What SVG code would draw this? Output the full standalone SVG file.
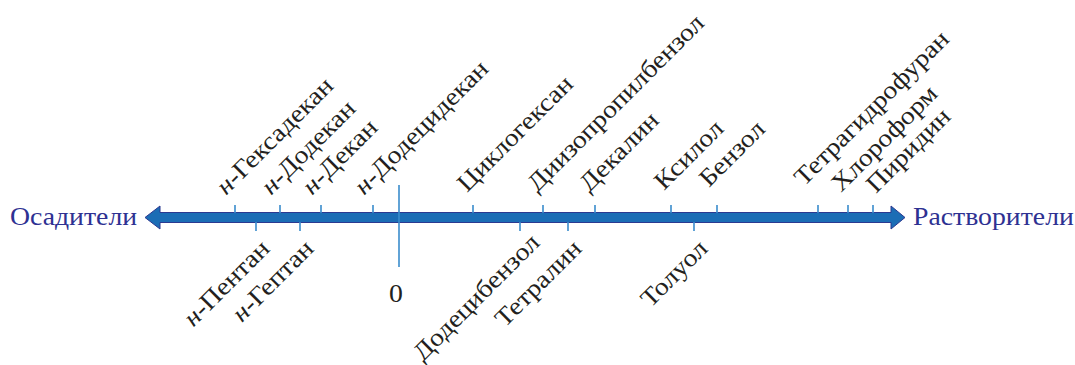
<svg xmlns="http://www.w3.org/2000/svg" width="1075" height="365" viewBox="0 0 1075 365">
<style>
.lbl{font-family:"Liberation Serif","Times New Roman",serif;font-size:25px;fill:#231f20}
.end{font-family:"Liberation Serif","Times New Roman",serif;font-size:25px;fill:#2e3192}
.tick{stroke:#3a8ccc;stroke-width:1.6;fill:none}
.it{font-style:italic}
</style>
<rect width="1075" height="365" fill="#fff"/>
<g id="axis">
<path d="M145,217.5 L160,206 L160,212.5 L891,212.5 L891,206 L905,217.5 L891,229 L891,222.5 L160,222.5 L160,229 Z" fill="#1b6db5" stroke="#2b3990" stroke-width="1"/>
</g>
<g id="connectors">
<path class="tick" d="M235,205V213 M280,205V213 M321,205V213 M373,205V213 M473,205V213 M543,205V213 M595,205V213 M671,205V213 M717,205V213 M818,205V213 M848,205V213 M873,205V213"/>
<path class="tick" d="M256,222V231 M300,222V231 M520,222V231 M568,222V231 M694,222V231"/>
<path class="tick" d="M399,185V267"/>
</g>
<g id="n-end-left"><text class="end" transform="translate(10,225) scale(1.11,1)">Осадители</text></g>
<g id="n-end-right"><text class="end" transform="translate(913,225) scale(1.11,1)">Растворители</text></g>
<g id="n-zero"><text class="lbl" transform="translate(396,302) scale(1.11,1)" text-anchor="middle">0</text></g>
<g id="n-hexadecane"><text class="lbl" transform="translate(226,196) rotate(-45) scale(1.11,1)"><tspan class="it">н</tspan>-Гексадекан</text></g>
<g id="n-dodecane"><text class="lbl" transform="translate(271,196) rotate(-45) scale(1.11,1)"><tspan class="it">н</tspan>-Додекан</text></g>
<g id="n-decane"><text class="lbl" transform="translate(312,196) rotate(-45) scale(1.11,1)"><tspan class="it">н</tspan>-Декан</text></g>
<g id="n-dodecidecane"><text class="lbl" transform="translate(364,196) rotate(-45) scale(1.11,1)"><tspan class="it">н</tspan>-Додецидекан</text></g>
<g id="n-cyclohexane"><text class="lbl" transform="translate(467,193) rotate(-45) scale(1.11,1)">Циклогексан</text></g>
<g id="n-diisopropylbenzene"><text class="lbl" transform="translate(537,193) rotate(-45) scale(1.11,1)">Диизопропилбензол</text></g>
<g id="n-decalin"><text class="lbl" transform="translate(589,193) rotate(-45) scale(1.11,1)">Декалин</text></g>
<g id="n-xylene"><text class="lbl" transform="translate(664,191) rotate(-45) scale(1.11,1)">Ксилол</text></g>
<g id="n-benzene"><text class="lbl" transform="translate(709,188) rotate(-45) scale(1.11,1)">Бензол</text></g>
<g id="n-thf"><text class="lbl" transform="translate(804,187) rotate(-45) scale(1.11,1)">Тетрагидрофуран</text></g>
<g id="n-chloroform"><text class="lbl" transform="translate(841,193) rotate(-45) scale(1.11,1)">Хлороформ</text></g>
<g id="n-pyridine"><text class="lbl" transform="translate(876,194) rotate(-45) scale(1.11,1)">Пиридин</text></g>
<g id="n-pentane"><text class="lbl" text-anchor="end" transform="translate(271,250) rotate(-45) scale(1.11,1)"><tspan class="it">н</tspan>-Пентан</text></g>
<g id="n-heptane"><text class="lbl" text-anchor="end" transform="translate(315,250) rotate(-45) scale(1.11,1)"><tspan class="it">н</tspan>-Гептан</text></g>
<g id="n-dodecylbenzene"><text class="lbl" text-anchor="end" transform="translate(541,244) rotate(-45) scale(1.11,1)">Додецибензол</text></g>
<g id="n-tetralin"><text class="lbl" text-anchor="end" transform="translate(583,250) rotate(-45) scale(1.11,1)">Тетралин</text></g>
<g id="n-toluene"><text class="lbl" text-anchor="end" transform="translate(709,250) rotate(-45) scale(1.11,1)">Толуол</text></g>
</svg>
